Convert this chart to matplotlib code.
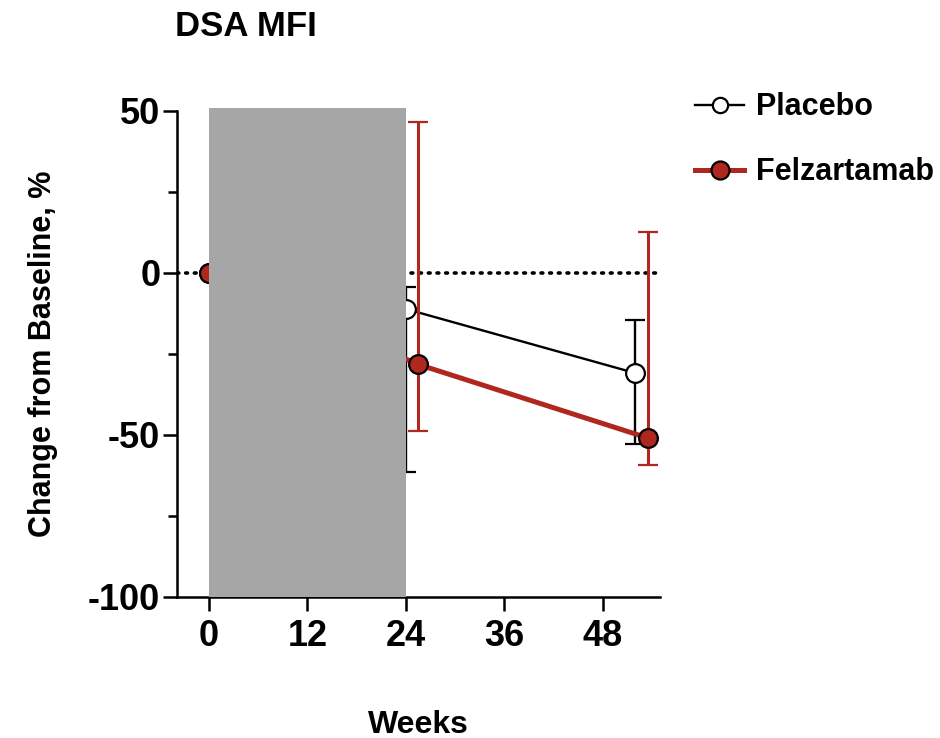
import matplotlib
matplotlib.use("Agg")
import matplotlib.pyplot as plt
from matplotlib.patches import Rectangle
from matplotlib.lines import Line2D

plt.rcParams['font.family'] = ['Liberation Sans', 'DejaVu Sans']
plt.rcParams['font.weight'] = 'bold'
plt.rcParams['axes.unicode_minus'] = False

# data (weeks, % change from baseline)
placebo_weeks = [0, 24, 52]
placebo_mean = [0, -11.1, -30.9]
placebo_lo = [0, -61.4, -52.9]
placebo_hi = [0, -4.2, -14.6]

felz_weeks = [0, 25.5, 53.5]
felz_mean = [0, -28.2, -50.9]
felz_lo = [0, -48.9, -59.3]
felz_hi = [0, 46.6, 12.5]

xticks = [0, 12, 24, 36, 48]
yticks = [-100, -50, 0, 50]
shade_weeks = (0, 24)

red = '#B0271F'

fig = plt.figure(figsize=(9.4, 7.38), dpi=100)
ax = fig.add_axes([177 / 940, 1 - 597 / 738, (660 - 177) / 940, (597 - 111) / 738])

ax.axhline(0, color='black', lw=2.6, ls=(0, (0.5, 1.9)), dash_capstyle='round', zorder=1)

p_err = [[m - lo for m, lo in zip(placebo_mean, placebo_lo)],
         [hi - m for m, hi in zip(placebo_mean, placebo_hi)]]
f_err = [[m - lo for m, lo in zip(felz_mean, felz_lo)],
         [hi - m for m, hi in zip(felz_mean, felz_hi)]]

ax.errorbar(placebo_weeks, placebo_mean, yerr=p_err, color='black', lw=1.7,
            elinewidth=1.7, capsize=7.5, capthick=1.7, marker='o', ms=13.5,
            mfc='white', mec='black', mew=1.6, zorder=2)
ax.errorbar(felz_weeks, felz_mean, yerr=f_err, color=red, lw=3.6,
            elinewidth=2.2, capsize=7.5, capthick=2.2, marker='o', ms=13.5,
            mfc=red, mec='black', mew=1.6, zorder=3)

ax.add_patch(Rectangle((shade_weeks[0], -100), shade_weeks[1] - shade_weeks[0], 151,
                       facecolor='#A6A6A6', edgecolor='none', zorder=5, clip_on=False))

ax.set_xlim(-3.9, 55)
ax.set_ylim(-100, 50)
ax.set_xticks(xticks)
ax.set_yticks(yticks)
ax.set_yticks([-75, -25, 25], minor=True)
for s in ['top', 'right']:
    ax.spines[s].set_visible(False)
for s in ['left', 'bottom']:
    ax.spines[s].set_linewidth(1.8)
ax.tick_params(which='major', length=10, width=1.8, labelsize=26, pad=2)
ax.tick_params(axis='x', which='major', pad=6)
ax.tick_params(axis='y', which='minor', length=6.5, width=1.8)

ax.set_xlabel('Weeks', fontsize=23, fontweight='bold', labelpad=40)
ax.set_ylabel('Change from Baseline, %', fontsize=22, fontweight='bold', labelpad=22)

fig.text(175 / 940, 1 - 27 / 738, 'DSA MFI', fontsize=25, fontweight='bold',
         ha='left', va='center')

handles = [
    Line2D([], [], color='black', lw=1.7, marker='o', ms=11, mfc='white', mec='black', mew=1.6),
    Line2D([], [], color=red, lw=3.6, marker='o', ms=13, mfc=red, mec='black', mew=1.6),
]
fig.legend(handles, ['Placebo', 'Felzartamab'], loc='upper left',
           bbox_to_anchor=(683 / 940, 1 - 80 / 738), frameon=False,
           prop={'size': 22, 'weight': 'bold'}, handlelength=1.6,
           handletextpad=0.4, labelspacing=1.15, borderaxespad=0)

fig.savefig('out.png', dpi=100)
